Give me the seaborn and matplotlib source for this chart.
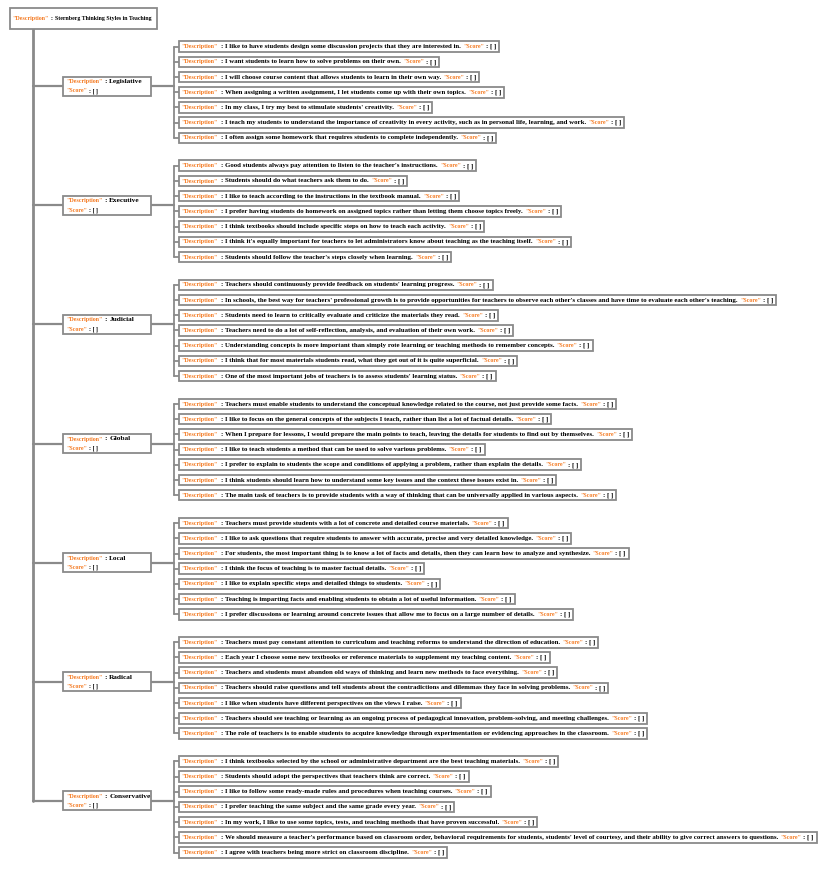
import matplotlib
matplotlib.use("Agg")
import matplotlib.pyplot as plt
from matplotlib.patches import Rectangle
import seaborn as sns

# ── Data ──────────────────────────────────────────────────────────────────────
root_label = "Sternberg Thinking Styles in Teaching"
styles = ["Legislative", "Executive", "Judicial", "Global", "Local", "Radical", "Conservative"]

legislative = [
    "I like to have students design some discussion projects that they are interested in.",
    "I want students to learn how to solve problems on their own.",
    "I will choose course content that allows students to learn in their own way.",
    "When assigning a written assignment, I let students come up with their own topics.",
    "In my class, I try my best to stimulate students' creativity.",
    "I teach my students to understand the importance of creativity in every activity, such as in personal life, learning, and work.",
    "I often assign some homework that requires students to complete independently.",
]
executive = [
    "Good students always pay attention to listen to the teacher's instructions.",
    "Students should do what teachers ask them to do.",
    "I like to teach according to the instructions in the textbook manual.",
    "I prefer having students do homework on assigned topics rather than letting them choose topics freely.",
    "I think textbooks should include specific steps on how to teach each activity.",
    "I think it's equally important for teachers to let administrators know about teaching as the teaching itself.",
    "Students should follow the teacher's steps closely when learning.",
]
judicial = [
    "Teachers should continuously provide feedback on students' learning progress.",
    "In schools, the best way for teachers' professional growth is to provide opportunities for teachers to observe each other's classes and have time to evaluate each other's teaching.",
    "Students need to learn to critically evaluate and criticize the materials they read.",
    "Teachers need to do a lot of self-reflection, analysis, and evaluation of their own work.",
    "Understanding concepts is more important than simply rote learning or teaching methods to remember concepts.",
    "I think that for most materials students read, what they get out of it is quite superficial.",
    "One of the most important jobs of teachers is to assess students' learning status.",
]
global_ = [
    "Teachers must enable students to understand the conceptual knowledge related to the course, not just provide some facts.",
    "I like to focus on the general concepts of the subjects I teach, rather than list a lot of factual details.",
    "When I prepare for lessons, I would prepare the main points to teach, leaving the details for students to find out by themselves.",
    "I like to teach students a method that can be used to solve various problems.",
    "I prefer to explain to students the scope and conditions of applying a problem, rather than explain the details.",
    "I think students should learn how to understand some key issues and the context these issues exist in.",
    "The main task of teachers is to provide students with a way of thinking that can be universally applied in various aspects.",
]
local = [
    "Teachers must provide students with a lot of concrete and detailed course materials.",
    "I like to ask questions that require students to answer with accurate, precise and very detailed knowledge.",
    "For students, the most important thing is to know a lot of facts and details, then they can learn how to analyze and synthesize.",
    "I think the focus of teaching is to master factual details.",
    "I like to explain specific steps and detailed things to students.",
    "Teaching is imparting facts and enabling students to obtain a lot of useful information.",
    "I prefer discussions or learning around concrete issues that allow me to focus on a large number of details.",
]
radical = [
    "Teachers must pay constant attention to curriculum and teaching reforms to understand the direction of education.",
    "Each year I choose some new textbooks or reference materials to supplement my teaching content.",
    "Teachers and students must abandon old ways of thinking and learn new methods to face everything.",
    "Teachers should raise questions and tell students about the contradictions and dilemmas they face in solving problems.",
    "I like when students have different perspectives on the views I raise.",
    "Teachers should see teaching or learning as an ongoing process of pedagogical innovation, problem-solving, and meeting challenges.",
    "The role of teachers is to enable students to acquire knowledge through experimentation or evidencing approaches in the classroom.",
]
conservative = [
    "I think textbooks selected by the school or administrative department are the best teaching materials.",
    "Students should adopt the perspectives that teachers think are correct.",
    "I like to follow some ready-made rules and procedures when teaching courses.",
    "I prefer teaching the same subject and the same grade every year.",
    "In my work, I like to use some topics, tests, and teaching methods that have proven successful.",
    "We should measure a teacher's performance based on classroom order, behavioral requirements for students, students' level of courtesy, and their ability to give correct answers to questions.",
    "I agree with teachers being more strict on classroom discipline.",
]
items = [legislative, executive, judicial, global_, local, radical, conservative]

# ── Style ─────────────────────────────────────────────────────────────────────
sns.set_theme(style="white")
plt.rcParams["font.family"] = ["Liberation Serif", "DejaVu Serif"]
ORANGE = "#f47a22"
GREY = "#8a8a8a"
FS_KEY = 4.3     # orange keys
FS_BODY = 4.95   # black statement text
FS_CAT = 5.3
FS_ROOT = 4.2

fig = plt.figure(figsize=(8.3, 8.72), dpi=100)
ax = fig.add_axes([0, 0, 1, 1])
ax.set_xlim(0, 830); ax.set_ylim(872, 0); ax.axis("off")
renderer = fig.canvas.get_renderer()


def draw_segments(x, y, segs):
    """Draw coloured text pieces one after another, return right edge."""
    for s, color, size, gap in segs:
        t = ax.text(x, y, s, fontsize=size, color=color, fontweight="bold",
                    va="center", ha="left", zorder=4)
        x += t.get_window_extent(renderer).width + gap
    return x


def desc_segs(body, key_fs, body_fs, score=True):
    segs = [('"Description"', ORANGE, key_fs, 2.2),
            (":", "black", body_fs, 2.2),
            (body, "black", body_fs, 2.8)]
    if score:
        segs += [('"Score"', ORANGE, key_fs, 1.6),
                 (": [ ]", "black", body_fs, 0)]
    return segs


def box(x0, y0, x1, y1):
    ax.add_patch(Rectangle((x0, y0), x1 - x0, y1 - y0, facecolor="white",
                           edgecolor=GREY, lw=1.3, zorder=3))


# root
end = draw_segments(12, 18.5, desc_segs(root_label, FS_KEY, FS_ROOT, score=False))
box(10, 8, end + 3, 29)

TRUNK_X, CAT_X0, CAT_X1, LEAF_BUS, LEAF_X0 = 33, 63, 151, 174, 179
y_first, group_step, leaf_step = 46.7, 119.1, 15.2

cat_centers = []
for g, (style, stmts) in enumerate(zip(styles, items)):
    ys = [y_first + g * group_step + i * leaf_step for i in range(len(stmts))]
    yc = ys[3] - 6
    cat_centers.append(yc)
    # connectors
    ax.plot([TRUNK_X, CAT_X0], [yc, yc], color=GREY, lw=1.6, zorder=1)
    ax.plot([CAT_X1, LEAF_BUS], [yc, yc], color=GREY, lw=1.6, zorder=1)
    ax.plot([LEAF_BUS, LEAF_BUS], [ys[0], ys[-1]], color=GREY, lw=1.3, zorder=1)
    for y, s in zip(ys, stmts):
        ax.plot([LEAF_BUS, LEAF_X0], [y, y], color=GREY, lw=1.3, zorder=1)
        end = draw_segments(LEAF_X0 + 2.5, y, desc_segs(s, FS_KEY, FS_BODY))
        box(LEAF_X0, y - 5.3, end + 3, y + 5.3)
    # category box
    box(CAT_X0, yc - 9.5, CAT_X1, yc + 9.5)
    draw_segments(CAT_X0 + 3, yc - 4.6,
                  [('"Description"', ORANGE, FS_KEY, 2.2),
                   (":", "black", FS_CAT, 2.2),
                   (style, "black", FS_CAT, 0)])
    draw_segments(CAT_X0 + 3, yc + 4.6,
                  [('"Score"', ORANGE, FS_KEY, 1.6),
                   (": [ ]", "black", FS_KEY, 0)])

ax.plot([TRUNK_X, TRUNK_X], [29, cat_centers[-1]], color=GREY, lw=2.0, zorder=1)

plt.savefig("out.png", dpi=100)
